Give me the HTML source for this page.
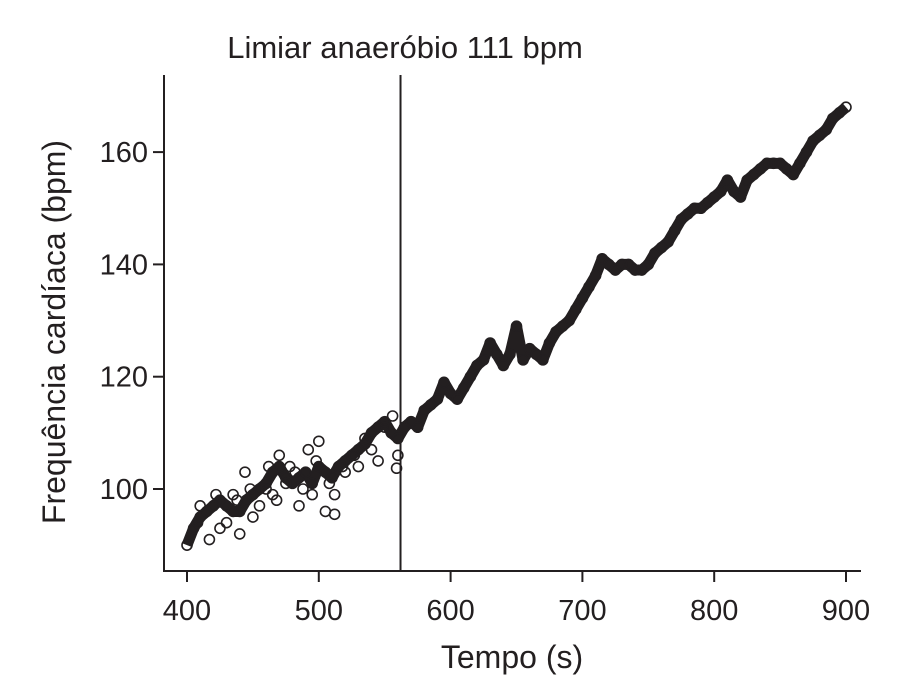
<!DOCTYPE html>
<html><head><meta charset="utf-8"><style>
body{margin:0;background:#fff;}
svg text{font-family:"Liberation Sans",Arial,sans-serif;fill:#231f20;}
</style></head><body>
<svg id="chart" width="912" height="687">
<text x="405" y="58" font-size="31" text-anchor="middle">Limiar anaeróbio 111 bpm</text>
<line x1="164" y1="75" x2="164" y2="571" stroke="#231f20" stroke-width="2"/>
<line x1="163" y1="571" x2="861" y2="571" stroke="#231f20" stroke-width="2"/>
<text x="512" y="668" font-size="32" text-anchor="middle">Tempo (s)</text>
<text transform="translate(65,332) rotate(-90)" font-size="32" text-anchor="middle">Frequência cardíaca (bpm)</text>
<g id="ticks"></g><g id="marks"></g>
</svg>
<script>
const xTicks=[400,500,600,700,800,900];
const yTicks=[100,120,140,160];
const threshold=[562];
const times=[400,405,410,415,420,425,430,435,440,445,450,455,460,465,470,475,480,485,490,495,500,505,510,515,520,525,530,535,540,545,550,555,560,565,570,575,580,585,590,595,600,605,610,615,620,625,630,635,640,645,650,655,660,665,670,675,680,685,690,695,700,705,710,715,720,725,730,735,740,745,750,755,760,765,770,775,780,785,790,795,800,805,810,815,820,825,830,835,840,845,850,855,860,865,870,875,880,885,890,895,900];
const hr=[90,93,95,96,97,98,97,96,96,98,99,100,101,103,104,102,101,102,103,101,104,103,102,104,105,106,107,108,110,111,112,110,109,111,112,111,114,115,116,119,117,116,118,120,122,123,126,124,122,124,129,123,125,124,123,126,128,129,130,132,134,136,138,141,140,139,140,140,139,139,140,142,143,144,146,148,149,150,150,151,152,153,155,153,152,155,156,157,158,158,158,157,156,158,160,162,163,164,166,167,168];
const extraT=[417,425,430,440,450,468,485,495,505,512,512,520,470,478,492,500,545,559,560,444,460,530,410,435,455,408,422,438,448,462,475,488,498,508,518,527,535,540,550,556,465,482];
const extraV=[91,93,94,92,95,98,97,99,96,95.5,99,103,106,104,107,108.5,105,103.7,106,103,100,104,97,99,97,94,99,98,100,104,101,100,105,101,104,106,109,107,111,113,99,103];
const X=t=>187+(t-400)*1.318;
const Y=v=>489-(v-100)*5.615;
const NS="http://www.w3.org/2000/svg";
const tg=document.getElementById('ticks'),mg=document.getElementById('marks');
function mk(tag,at,p){const e=document.createElementNS(NS,tag);for(const k in at)e.setAttribute(k,at[k]);p.appendChild(e);return e;}
xTicks.forEach(t=>{
 const l=mk('line',{x1:X(t),x2:X(t),y1:571,y2:582,stroke:'#231f20','stroke-width':2},tg);
 
 
 const tx=mk('text',{x:X(t),y:620,'font-size':29,'text-anchor':'middle'},tg);tx.textContent=t;
 
 
});
yTicks.forEach(v=>{
 const l=mk('line',{x1:153,x2:164,y1:Y(v),y2:Y(v),stroke:'#231f20','stroke-width':2},tg);
 
 
 const tx=mk('text',{x:148,y:Y(v)+10,'font-size':29,'text-anchor':'end'},tg);tx.textContent=v;
 
 
});
threshold.forEach(t=>{
 const l=mk('line',{x1:X(t),x2:X(t),y1:75,y2:571,stroke:'#231f20','stroke-width':2},mg);
 
 
});
const pts=times.map((t,i)=>X(t)+','+Y(hr[i])).join(' ');
const pl=mk('polyline',{points:pts,fill:'none',stroke:'#231f20','stroke-width':11,'stroke-linejoin':'round'},mg);


times.forEach((t,i)=>{
 const c=mk('circle',{cx:X(t),cy:Y(hr[i]),r:5,fill:'none',stroke:'#231f20','stroke-width':1.6},mg);
 
 
});
extraT.forEach((t,i)=>{
 const c=mk('circle',{cx:X(t),cy:Y(extraV[i]),r:5,fill:'none',stroke:'#231f20','stroke-width':1.6},mg);
 
 
});
</script>
</body></html>
